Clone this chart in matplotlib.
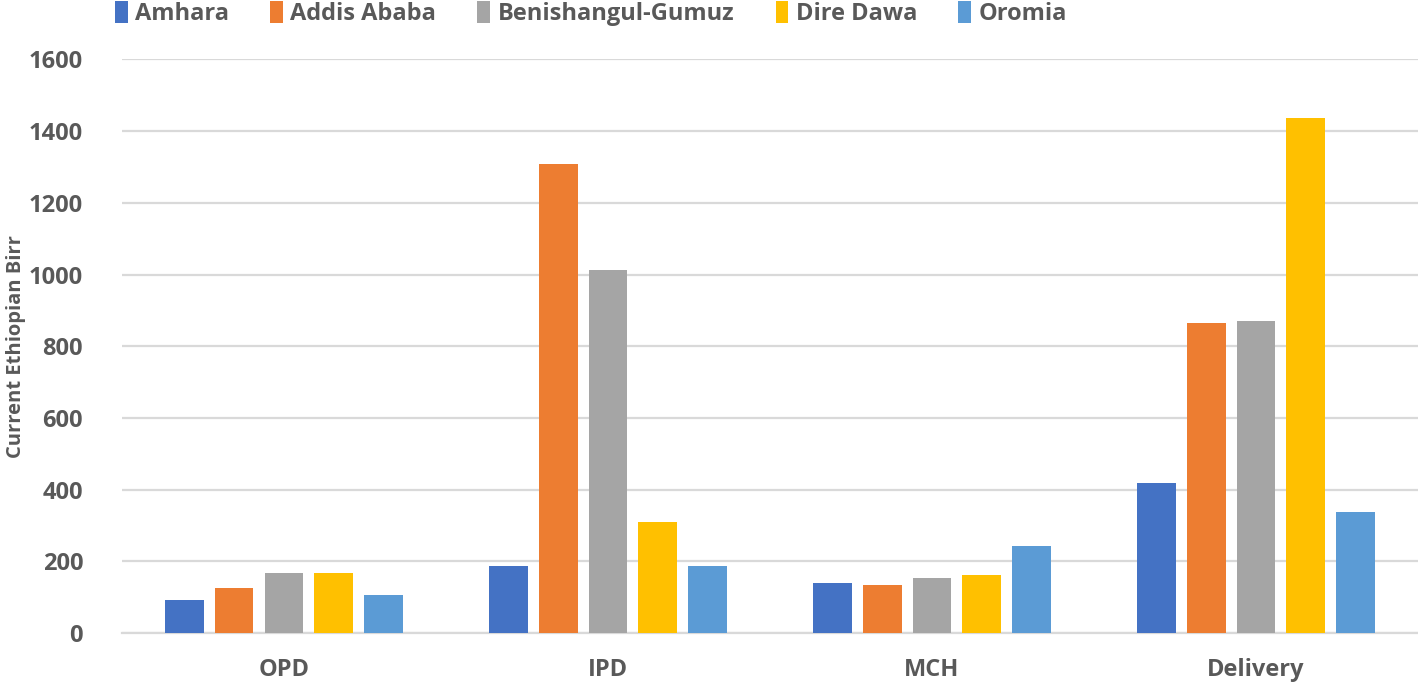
import numpy as np
import matplotlib
matplotlib.use("Agg")
import matplotlib.pyplot as plt

plt.rcParams['font.family'] = ['Open Sans', 'DejaVu Sans']
plt.rcParams['font.weight'] = 'bold'

# Data
categories = ['OPD', 'IPD', 'MCH', 'Delivery']
regions = ['Amhara', 'Addis Ababa', 'Benishangul-Gumuz', 'Dire Dawa', 'Oromia']
amhara = [92, 187, 140, 420]
addis_ababa = [126, 1307, 134, 866]
benishangul = [168, 1014, 154, 871]
dire_dawa = [168, 310, 162, 1436]
oromia = [106, 187, 243, 338]
colors = ['#4472C4', '#ED7D31', '#A5A5A5', '#FFC000', '#5B9BD5']
yticks = [0, 200, 400, 600, 800, 1000, 1200, 1400, 1600]

series = [amhara, addis_ababa, benishangul, dire_dawa, oromia]
text_color = '#595959'

fig = plt.figure(figsize=(14.18, 6.83), dpi=100)
ax = fig.add_axes([0.086, 0.073, 0.914, 0.840])

x = np.arange(len(categories))
step = 0.154
width = 0.12
for i, (vals, name, c) in enumerate(zip(series, regions, colors)):
    ax.bar(x + (i - 2) * step, vals, width, color=c, label=name, zorder=3)

ax.set_xlim(-0.5, 3.5)
ax.set_ylim(0, 1600)
ax.set_yticks(yticks)
ax.set_xticks(x)
ax.set_xticklabels(categories)
ax.grid(axis='y', color='#d9d9d9', linewidth=1.6, zorder=0)
for s in ['top', 'right', 'left']:
    ax.spines[s].set_visible(False)
ax.spines['bottom'].set_color('#d9d9d9')
ax.spines['bottom'].set_linewidth(1.6)
ax.tick_params(axis='both', length=0, labelsize=17, labelcolor=text_color)
ax.tick_params(axis='x', pad=18)
ax.tick_params(axis='y', pad=28)
for lab in ax.get_xticklabels() + ax.get_yticklabels():
    lab.set_fontweight('bold')

ax.set_ylabel('Current Ethiopian Birr', fontsize=14.5, fontweight='bold', color=text_color)
ax.yaxis.set_label_coords(-0.074, 0.5)

fig.legend(loc='upper left', bbox_to_anchor=(0.066, 1.03), ncol=5, frameon=False,
           labelcolor=text_color, handlelength=0.55, handleheight=1.1,
           handletextpad=0.3, columnspacing=1.75, prop={'weight': 'bold', 'size': 17})

fig.savefig('out.png', dpi=100)
